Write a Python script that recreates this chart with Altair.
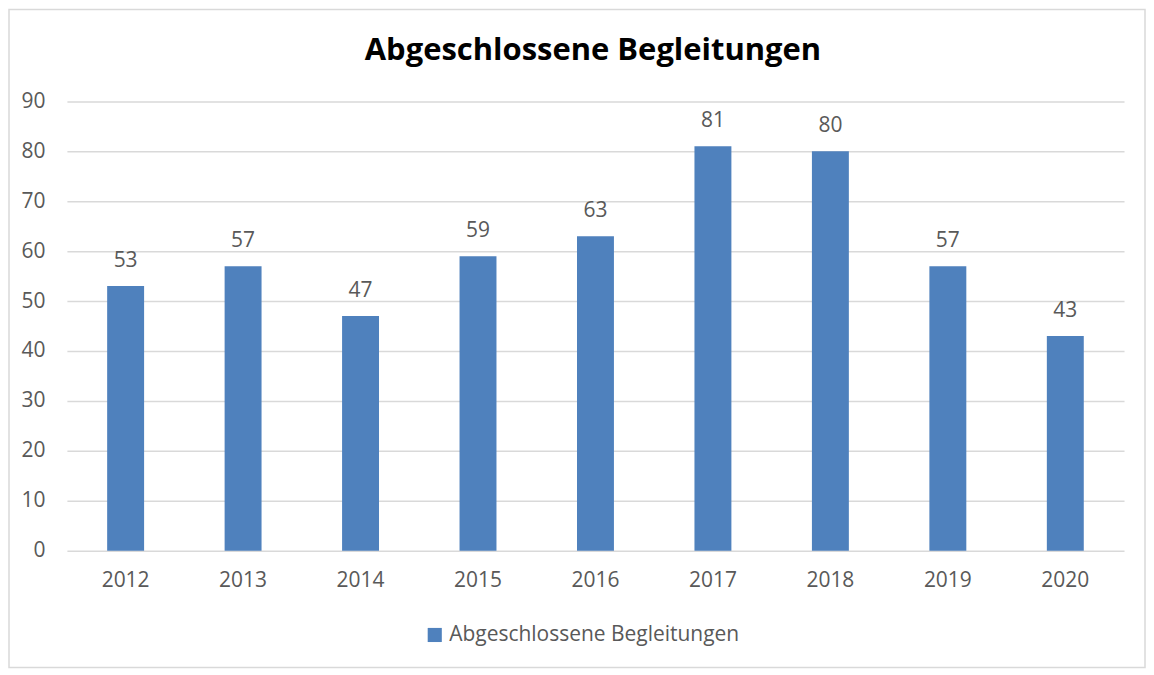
import altair as alt
import pandas as pd

years = ["2012", "2013", "2014", "2015", "2016", "2017", "2018", "2019", "2020"]
values = [53, 57, 47, 59, 63, 81, 80, 57, 43]
series_name = "Abgeschlossene Begleitungen"
y_ticks = [0, 10, 20, 30, 40, 50, 60, 70, 80, 90]

df = pd.DataFrame({"Jahr": years, "Wert": values, "Serie": [series_name] * len(years)})

FONT = "Open Sans"
GRAY = "#595959"
BLUE = "#4F81BD"
FS = 21

x_enc = alt.X("Jahr:N", sort=years,
              scale=alt.Scale(paddingInner=0.686, paddingOuter=0.343),
              axis=alt.Axis(title=None, labelAngle=0, ticks=False, domain=False,
                            labelFontSize=FS, labelColor=GRAY, labelFont=FONT,
                            labelPadding=19, grid=False))
y_enc = alt.Y("Wert:Q", scale=alt.Scale(domain=[0, 90]),
              axis=alt.Axis(title=None, values=y_ticks, ticks=False, domain=False,
                            labelFontSize=FS, labelColor=GRAY, labelFont=FONT,
                            labelPadding=22, gridColor="#D9D9D9", gridWidth=1.5))

bars = alt.Chart(df).mark_bar(size=37).encode(
    x=x_enc,
    y=y_enc,
    color=alt.Color("Serie:N", scale=alt.Scale(range=[BLUE]),
                    legend=alt.Legend(title=None, orient="none", legendX=358, legendY=524,
                                      symbolType="square", symbolSize=200,
                                      symbolStrokeWidth=0, labelFontSize=FS, labelLimit=0,
                                      labelColor=GRAY, labelFont=FONT, labelOffset=4)),
)

labels = alt.Chart(df).mark_text(dy=-25, fontSize=FS, font=FONT, color=GRAY).encode(
    x=alt.X("Jahr:N", sort=years),
    y="Wert:Q",
    text="Wert:Q",
)

border = alt.Chart(pd.DataFrame({"a": [0]})).mark_rect(
    fill=None, stroke="#D9D9D9", strokeWidth=1.5
).encode(x=alt.value(-58), x2=alt.value(1080), y=alt.value(-92), y2=alt.value(567))

title = alt.Chart(pd.DataFrame({"t": [series_name]})).mark_text(
    fontSize=31, font=FONT, fontWeight="bold", color="#000000", align="center", baseline="middle"
).encode(text="t:N", x=alt.value(527), y=alt.value(-50))

chart = alt.layer(border, bars, labels, title).properties(
    width=1059, height=450, padding=0,
).configure_view(stroke=None)

chart.save("out.html", embed_options={"renderer": "svg", "actions": False})
